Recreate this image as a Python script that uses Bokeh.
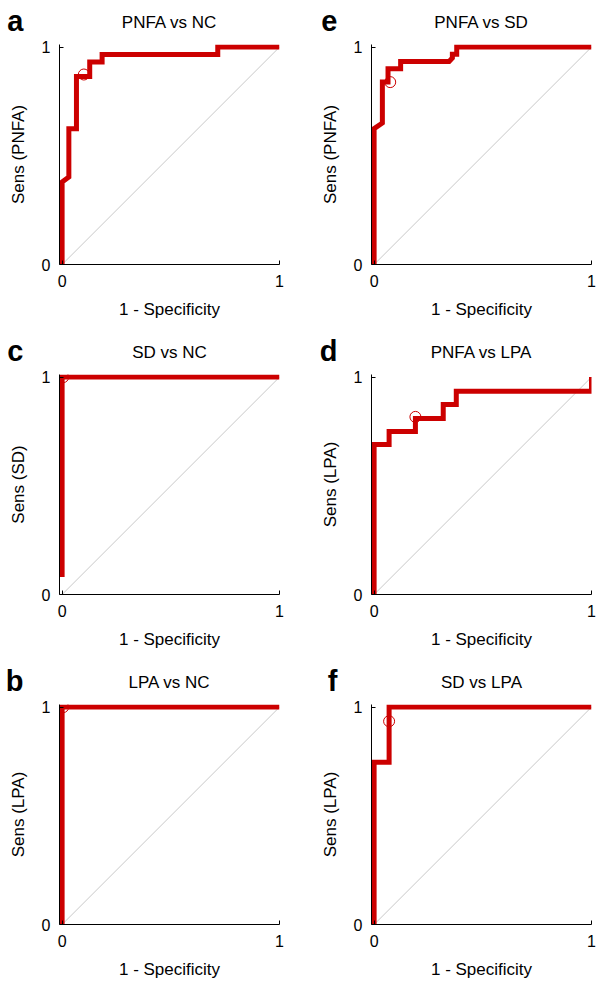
from bokeh.plotting import figure
from bokeh.models import Range1d, FixedTicker
from bokeh.layouts import column, row
from bokeh.core.properties import value
from bokeh.embed import file_html
from bokeh.resources import INLINE

# ---------------- data ----------------
letters = ["a", "e", "c", "d", "b", "f"]
titles = ["PNFA vs NC", "PNFA vs SD", "SD vs NC", "PNFA vs LPA", "LPA vs NC", "SD vs LPA"]
ylabels = ["Sens (PNFA)", "Sens (PNFA)", "Sens (SD)", "Sens (LPA)", "Sens (LPA)", "Sens (LPA)"]
xlabel = "1 - Specificity"
tick_vals = [0, 1]

fpr_a = [0, 0, 0.031, 0.031, 0.066, 0.066, 0.127, 0.127, 0.184, 0.184, 0.716, 0.716, 1.0]
tpr_a = [0, 0.38, 0.403, 0.625, 0.625, 0.865, 0.865, 0.931, 0.931, 0.966, 0.966, 1.0, 1.0]
opt_a = (0.10, 0.874)

fpr_e = [0, 0, 0.038, 0.038, 0.064, 0.064, 0.122, 0.122, 0.345, 0.36, 0.36, 0.38, 0.38, 1.0]
tpr_e = [0, 0.625, 0.651, 0.839, 0.839, 0.90, 0.90, 0.934, 0.934, 0.95, 0.967, 0.967, 1.0, 1.0]
opt_e = (0.074, 0.839)

fpr_c = [0, 0, 1.0]
tpr_c = [0.08, 1.0, 1.0]
opt_c = (0.005, 1.0)

fpr_d = [0, 0, 0.069, 0.069, 0.19, 0.19, 0.318, 0.318, 0.378, 0.378, 1.0, 1.0]
tpr_d = [0, 0.69, 0.69, 0.75, 0.75, 0.81, 0.81, 0.874, 0.874, 0.935, 0.935, 1.0]
opt_d = (0.19, 0.817)

fpr_b = [0, 0, 1.0]
tpr_b = [0, 1.0, 1.0]
opt_b = (0.005, 1.0)

fpr_f = [0, 0, 0.069, 0.069, 1.0]
tpr_f = [0, 0.746, 0.746, 1.0, 1.0]
opt_f = (0.069, 0.935)

chance_x = [0, 1]
chance_y = [0, 1]

curves = [(fpr_a, tpr_a, opt_a), (fpr_e, tpr_e, opt_e), (fpr_c, tpr_c, opt_c),
          (fpr_d, tpr_d, opt_d), (fpr_b, tpr_b, opt_b), (fpr_f, tpr_f, opt_f)]

# ---------------- style / layout ----------------
RED = "#cc0000"
FONT = "Liberation Sans"
FRAME = 220
HEADER_H = 37
PANEL_TOP = 7
COL_W = [312, 292]
LEFT = [59, 59]
LETTER_STANDOFF = [36, 34]
X_RANGE = (-0.012, 1.0)
Y_RANGE = (0, 1.012)


def make_header(i, col):
    w = COL_W[col]
    left = LEFT[col]
    right = w - left - FRAME
    h = figure(width=w, height=HEADER_H, output_backend="svg", toolbar_location=None,
               title_location=None,
               x_range=Range1d(*X_RANGE), y_range=Range1d(0, HEADER_H),
               x_axis_type=None,
               min_border_left=left, min_border_right=right,
               min_border_top=0, min_border_bottom=0)
    h.outline_line_color = None
    h.ygrid.visible = False
    ax = h.yaxis[0]
    letter_tick = HEADER_H - 20
    ax.ticker = FixedTicker(ticks=[letter_tick])
    ax.major_label_overrides = {letter_tick: letters[i]}
    ax.axis_line_color = None
    ax.major_tick_line_color = None
    ax.minor_tick_line_color = None
    ax.major_tick_in = 0
    ax.major_tick_out = 0
    ax.major_label_standoff = LETTER_STANDOFF[col]
    ax.major_label_text_font = FONT
    ax.major_label_text_font_size = "29px"
    ax.major_label_text_font_style = "bold"
    ax.major_label_text_color = "black"
    h.text(x=[0.494], y=[HEADER_H - 22], text=[titles[i]], text_font=value(FONT),
           text_font_size=value("17px"), text_align="center",
           text_baseline="middle", text_color="black")
    return h


def make_panel(i, col, rowi):
    fpr, tpr, opt = curves[i]
    w = COL_W[col]
    left = LEFT[col]
    right = w - left - FRAME
    top = PANEL_TOP
    hgt = (330 - HEADER_H) if rowi < 2 else (321 - HEADER_H)
    bottom = hgt - top - FRAME
    p = figure(width=w, height=hgt, output_backend="svg",
               toolbar_location=None, title_location=None,
               x_range=Range1d(*X_RANGE), y_range=Range1d(*Y_RANGE),
               min_border_left=left, min_border_right=right,
               min_border_top=top, min_border_bottom=bottom)
    p.outline_line_color = None
    p.xgrid.visible = False
    p.ygrid.visible = False
    p.background_fill_color = "white"
    p.border_fill_color = "white"

    for ax in (p.xaxis[0], p.yaxis[0]):
        ax.ticker = FixedTicker(ticks=tick_vals)
        ax.minor_tick_line_color = None
        ax.major_tick_in = 4
        ax.major_tick_out = 0
        ax.axis_line_color = "black"
        ax.major_tick_line_color = "black"
        ax.major_label_text_font = FONT
        ax.major_label_text_font_size = "16px"
        ax.major_label_text_color = "black"
        ax.axis_label_text_font = FONT
        ax.axis_label_text_font_size = "17px"
        ax.axis_label_text_font_style = "normal"
        ax.axis_label_text_color = "black"
    p.xaxis[0].axis_label = xlabel
    p.yaxis[0].axis_label = ylabels[i]
    p.xaxis[0].major_label_standoff = 10
    p.xaxis[0].axis_label_standoff = 10
    p.yaxis[0].major_label_standoff = 9
    p.yaxis[0].axis_label_standoff = 11

    p.line(chance_x, chance_y, line_color="#c8c8c8", line_width=1)
    p.line(fpr, tpr, line_color=RED, line_width=5, line_join="miter", line_cap="butt")
    p.scatter([opt[0]], [opt[1]], marker="circle", size=11, fill_color=None,
              line_color=RED, line_width=1)
    return p


rows = []
for r in range(3):
    cells = []
    for c in range(2):
        i = 2 * r + c
        cells.append(column(make_header(i, c), make_panel(i, c, r)))
    rows.append(row(*cells))
layout = column(*rows)

open("out.html", "w").write(file_html(layout, INLINE))
